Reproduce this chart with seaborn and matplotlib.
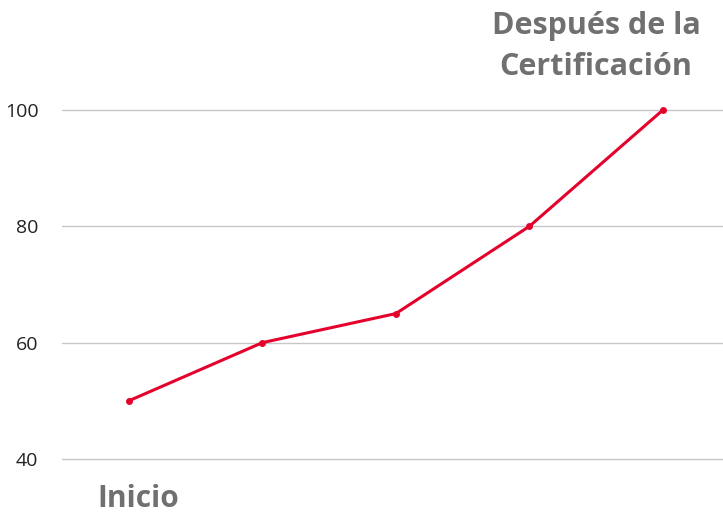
import matplotlib
matplotlib.use("Agg")
import matplotlib.pyplot as plt
import pandas as pd
import seaborn as sns

# datos
etapas = [0, 1, 2, 3, 4]
valores = [50, 60, 65, 80, 100]
yticks = [40, 60, 80, 100]
etiqueta_inicio = "Inicio"
etiqueta_final = "Después de la\nCertificación"

sns.set_style("white")
plt.rcParams["font.family"] = ["Open Sans", "DejaVu Sans"]

df = pd.DataFrame({"etapa": etapas, "valor": valores})

fig = plt.figure(figsize=(7.23, 5.16), dpi=100)
ax = fig.add_axes([62 / 723, 1 - 459 / 516, 1 - 62 / 723, 349 / 516])

sns.lineplot(data=df, x="etapa", y="valor", color="#e4022d", linewidth=2.2,
             marker="o", markersize=5, markeredgewidth=0, ax=ax)
for line in ax.lines:
    line.set_clip_on(False)

ax.set_xlim(-0.5, 4.45)
ax.set_ylim(40, 100)
ax.set_yticks(yticks)
ax.set_xticks([])
ax.yaxis.grid(True, color="#c8c8c8", linewidth=1)
for g in ax.get_ygridlines():
    g.set_clip_on(False)
ax.set_axisbelow(True)
ax.tick_params(axis="y", length=0, pad=17, labelsize=14, labelcolor="#222222")
ax.set_xlabel("")
ax.set_ylabel("")
sns.despine(ax=ax, left=True, bottom=True)

ax.text(0.07, 33.2, etiqueta_inicio, ha="center", va="center", fontsize=21.5,
        fontweight="bold", color="#707070")
ax.text(3.5, 110.9, etiqueta_final, ha="center", va="center", fontsize=22,
        fontweight="bold", color="#707070", linespacing=1.45)

fig.savefig("out.png", dpi=100)
